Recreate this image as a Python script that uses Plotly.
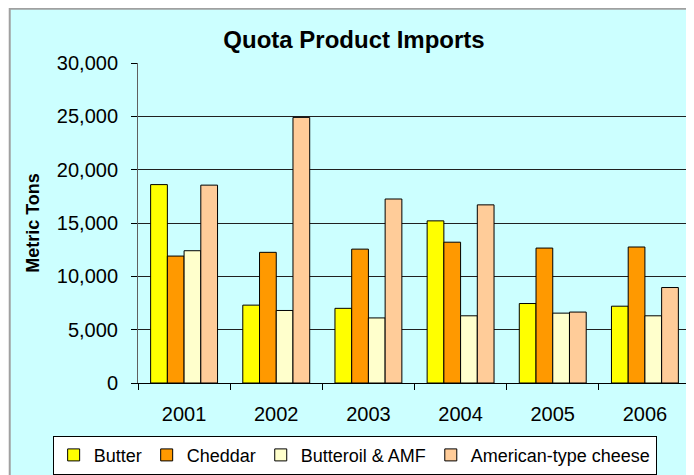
import plotly.graph_objects as go

years = ["2001", "2002", "2003", "2004", "2005", "2006"]
butter = [18600, 7300, 7000, 15200, 7450, 7200]
cheddar = [11900, 12250, 12550, 13200, 12650, 12750]
butteroil = [12400, 6800, 6100, 6300, 6550, 6300]
american = [18550, 24900, 17250, 16700, 6650, 8950]

series = [
    ("Butter", butter, "#FFFF00"),
    ("Cheddar", cheddar, "#FF9900"),
    ("Butteroil & AMF", butteroil, "#FFFFCC"),
    ("American-type cheese", american, "#FFCC99"),
]

OFF = 8  # page body margin
W, H = 694 - OFF, 475 - OFF
L, R, T, B = 137.5 - OFF, 2.5, 63.3 - OFF, 91.7
pw, ph = W - L - R, H - T - B

fig = go.Figure()
for name, vals, col in series:
    fig.add_trace(go.Bar(x=years, y=vals, name=name,
                         marker=dict(color=col, line=dict(color="black", width=1))))

def px(x):
    return (x - OFF - L) / pw

def py(y):
    return (OFF + H - B - y) / ph

fig.add_shape(type="rect", xref="paper", yref="paper",
              x0=px(9), x1=px(700), y0=py(9), y1=py(480),
              fillcolor="#CCFFFF", line=dict(color="#A0A0A0", width=2), layer="below")

fig.update_layout(
    width=W, height=H,
    margin=dict(l=L, r=R, t=T, b=B, autoexpand=False),
    paper_bgcolor="white", plot_bgcolor="rgba(0,0,0,0)",
    font=dict(family="Liberation Sans, Arial, sans-serif", size=20, color="black"),
    title=dict(text="<b>Quota Product Imports</b>", x=(354 - OFF) / W, xanchor="center",
               y=1 - (40 - OFF) / H, yanchor="middle", font=dict(size=24)),
    barmode="group", bargap=0.274, bargroupgap=0,
    showlegend=True,
    legend=dict(orientation="h", x=px(52), xanchor="left", y=py(436), yanchor="top",
                bgcolor="white", bordercolor="black", borderwidth=1,
                font=dict(size=18), itemwidth=30, tracegroupgap=0),
    xaxis=dict(type="category", showline=True, linecolor="black", linewidth=1,
               ticks="outside", tickson="boundaries", ticklen=6, tickcolor="black",
               showgrid=False, ticklabelstandoff=13),
    yaxis=dict(range=[0, 30000], tickvals=[0, 5000, 10000, 15000, 20000, 25000, 30000],
               tickformat=",d", showline=True, linecolor="#606060", linewidth=1,
               ticks="outside", ticklen=6, tickcolor="black",
               gridcolor="#202020", gridwidth=1, zeroline=False,
               ticklabelstandoff=9,
               title=dict(text="<b>Metric Tons</b>", font=dict(size=18), standoff=12)),
)

fig.write_html("out.html")
